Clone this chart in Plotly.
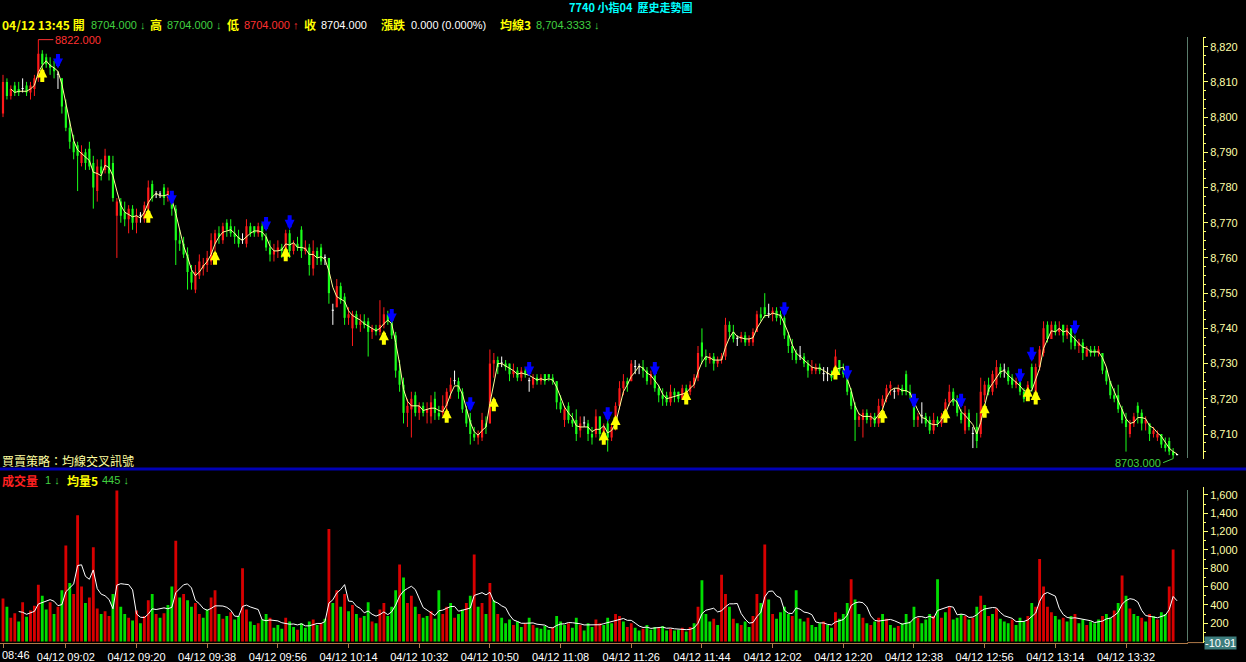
import pandas as pd
import plotly.graph_objects as go

# ---------------- data ----------------
tick_idx = [0, 16, 34, 52, 70, 88, 106, 124, 142, 160, 178, 196, 214, 232, 250, 268, 286]
tick_text = ["08:46", "04/12 09:02", "04/12 09:20", "04/12 09:38", "04/12 09:56", "04/12 10:14",
             "04/12 10:32", "04/12 10:50", "04/12 11:08", "04/12 11:26", "04/12 11:44", "04/12 12:02",
             "04/12 12:20", "04/12 12:38", "04/12 12:56", "04/12 13:14", "04/12 13:32"]

opens = [8801, 8810, 8806, 8809, 8808, 8808, 8809, 8807, 8808, 8811,
         8818, 8817, 8815, 8814, 8812, 8811, 8803, 8797, 8793, 8792,
         8787, 8790, 8791, 8787, 8779, 8786, 8785, 8789, 8787, 8772,
         8776, 8773, 8771, 8774, 8770, 8772, 8771, 8774, 8781, 8778,
         8778, 8780, 8777, 8779, 8774, 8765, 8764, 8761, 8756, 8751,
         8755, 8757, 8758, 8759, 8764, 8767, 8765, 8770, 8769, 8767,
         8766, 8765, 8764, 8769, 8769, 8767, 8769, 8766, 8763, 8761,
         8762, 8763, 8762, 8767, 8762, 8764, 8768, 8762, 8763, 8757,
         8762, 8763, 8760, 8760, 8745, 8746, 8752, 8749, 8743, 8740,
         8744, 8741, 8742, 8742, 8739, 8740, 8739, 8741, 8744, 8742,
         8738, 8728, 8724, 8716, 8717, 8721, 8716, 8718, 8716, 8715,
         8720, 8716, 8716, 8718, 8722, 8725, 8725, 8722, 8717, 8714,
         8710, 8709, 8709, 8713, 8713, 8730, 8731, 8730, 8730, 8730,
         8727, 8728, 8726, 8728, 8725, 8724, 8726, 8725, 8727, 8727,
         8726, 8725, 8719, 8714, 8718, 8714, 8714, 8711, 8713, 8713,
         8710, 8710, 8715, 8710, 8713, 8709, 8712, 8718, 8723, 8725,
         8725, 8729, 8729, 8729, 8728, 8726, 8727, 8723, 8721, 8721,
         8719, 8722, 8722, 8720, 8723, 8722, 8724, 8726, 8736, 8732,
         8731, 8732, 8730, 8731, 8732, 8741, 8739, 8737, 8737, 8738,
         8736, 8736, 8739, 8744, 8746, 8744, 8744, 8745, 8744, 8743,
         8738, 8735, 8733, 8732, 8732, 8730, 8728, 8728, 8729, 8727,
         8727, 8727, 8728, 8731, 8728, 8726, 8722, 8718, 8714, 8714,
         8716, 8714, 8715, 8713, 8718, 8720, 8723, 8722, 8722, 8723,
         8727, 8722, 8721, 8714, 8715, 8715, 8714, 8711, 8714, 8713,
         8715, 8719, 8722, 8720, 8716, 8711, 8716, 8710, 8712, 8710,
         8721, 8724, 8722, 8724, 8729, 8728, 8728, 8726, 8724, 8725,
         8722, 8720, 8729, 8722, 8729, 8733, 8741, 8737, 8741, 8739,
         8741, 8738, 8740, 8737, 8735, 8736, 8732, 8734, 8734, 8733,
         8733, 8728, 8725, 8721, 8721, 8717, 8714, 8710, 8713, 8718,
         8716, 8713, 8713, 8710, 8709, 8710, 8707, 8708, 8705, 8704]
highs = [8812, 8811, 8809, 8810, 8810, 8811, 8810, 8810, 8812, 8822,
         8819, 8818, 8817, 8816, 8813, 8811, 8805, 8799, 8795, 8793,
         8792, 8791, 8793, 8789, 8788, 8788, 8791, 8789, 8789, 8777,
         8777, 8776, 8775, 8775, 8774, 8773, 8776, 8782, 8782, 8779,
         8779, 8781, 8780, 8779, 8775, 8768, 8766, 8763, 8758, 8758,
         8761, 8760, 8762, 8767, 8768, 8769, 8770, 8771, 8771, 8769,
         8768, 8767, 8771, 8770, 8769, 8770, 8770, 8767, 8765, 8764,
         8765, 8764, 8768, 8768, 8765, 8766, 8769, 8765, 8764, 8765,
         8763, 8764, 8761, 8760, 8747, 8754, 8753, 8750, 8746, 8745,
         8745, 8744, 8744, 8743, 8741, 8741, 8748, 8746, 8745, 8743,
         8739, 8731, 8726, 8720, 8722, 8722, 8719, 8719, 8719, 8721,
         8722, 8718, 8721, 8723, 8726, 8728, 8726, 8723, 8718, 8716,
         8712, 8711, 8716, 8715, 8734, 8733, 8732, 8732, 8731, 8730,
         8730, 8729, 8729, 8729, 8726, 8727, 8727, 8727, 8727, 8727,
         8727, 8725, 8721, 8718, 8719, 8716, 8717, 8715, 8715, 8714,
         8712, 8717, 8715, 8713, 8716, 8713, 8719, 8725, 8727, 8726,
         8731, 8731, 8730, 8731, 8729, 8728, 8727, 8724, 8723, 8722,
         8724, 8723, 8722, 8724, 8724, 8725, 8727, 8735, 8740, 8734,
         8733, 8733, 8732, 8733, 8743, 8742, 8741, 8738, 8739, 8739,
         8738, 8740, 8745, 8746, 8750, 8747, 8746, 8746, 8745, 8744,
         8739, 8737, 8734, 8735, 8733, 8731, 8731, 8730, 8730, 8729,
         8729, 8728, 8734, 8731, 8730, 8727, 8723, 8719, 8716, 8717,
         8717, 8716, 8716, 8720, 8721, 8724, 8725, 8723, 8724, 8724,
         8728, 8724, 8721, 8716, 8719, 8716, 8715, 8716, 8715, 8716,
         8720, 8724, 8723, 8721, 8717, 8718, 8717, 8712, 8716, 8726,
         8725, 8726, 8728, 8731, 8730, 8730, 8729, 8727, 8726, 8725,
         8723, 8725, 8730, 8730, 8735, 8742, 8742, 8742, 8742, 8742,
         8741, 8741, 8740, 8738, 8737, 8737, 8735, 8735, 8735, 8735,
         8733, 8729, 8725, 8723, 8724, 8718, 8716, 8714, 8716, 8719,
         8717, 8715, 8713, 8712, 8711, 8710, 8709, 8709, 8706, 8704]
lows = [8800, 8805, 8805, 8806, 8806, 8807, 8806, 8805, 8806, 8810,
        8813, 8814, 8812, 8811, 8808, 8801, 8796, 8791, 8788, 8779,
        8786, 8785, 8785, 8774, 8776, 8782, 8784, 8782, 8776, 8760,
        8770, 8769, 8767, 8768, 8767, 8770, 8770, 8772, 8776, 8777,
        8777, 8775, 8776, 8772, 8758, 8762, 8760, 8751, 8751, 8750,
        8754, 8755, 8756, 8758, 8762, 8764, 8764, 8766, 8766, 8764,
        8763, 8764, 8763, 8766, 8766, 8766, 8765, 8762, 8759, 8759,
        8760, 8760, 8762, 8760, 8761, 8762, 8760, 8761, 8755, 8755,
        8758, 8758, 8758, 8747, 8741, 8746, 8747, 8741, 8741, 8735,
        8740, 8739, 8740, 8732, 8737, 8738, 8738, 8740, 8741, 8737,
        8726, 8722, 8713, 8712, 8709, 8715, 8714, 8715, 8713, 8713,
        8714, 8714, 8715, 8716, 8720, 8724, 8720, 8716, 8712, 8707,
        8708, 8707, 8708, 8710, 8713, 8726, 8727, 8729, 8728, 8725,
        8726, 8725, 8725, 8726, 8722, 8723, 8724, 8724, 8724, 8725,
        8724, 8717, 8716, 8712, 8713, 8712, 8708, 8709, 8712, 8708,
        8707, 8709, 8708, 8708, 8705, 8708, 8711, 8717, 8721, 8722,
        8725, 8727, 8727, 8726, 8724, 8724, 8722, 8719, 8718, 8718,
        8718, 8719, 8719, 8720, 8721, 8721, 8723, 8725, 8730, 8729,
        8730, 8728, 8729, 8730, 8731, 8737, 8736, 8735, 8736, 8735,
        8735, 8735, 8739, 8742, 8743, 8743, 8742, 8742, 8741, 8737,
        8733, 8731, 8730, 8731, 8729, 8726, 8727, 8727, 8727, 8725,
        8725, 8725, 8727, 8727, 8726, 8721, 8717, 8708, 8712, 8709,
        8713, 8712, 8712, 8712, 8716, 8719, 8721, 8720, 8721, 8721,
        8721, 8720, 8712, 8712, 8713, 8712, 8710, 8710, 8712, 8712,
        8714, 8718, 8718, 8715, 8713, 8710, 8711, 8706, 8706, 8709,
        8719, 8721, 8721, 8723, 8726, 8726, 8724, 8723, 8723, 8721,
        8719, 8720, 8722, 8721, 8728, 8732, 8736, 8737, 8738, 8738,
        8736, 8737, 8734, 8734, 8733, 8731, 8732, 8732, 8732, 8732,
        8727, 8724, 8720, 8719, 8716, 8713, 8705, 8709, 8712, 8713,
        8711, 8711, 8708, 8709, 8708, 8706, 8705, 8704, 8703, 8704]
closes = [8810, 8806, 8808, 8807, 8807, 8808, 8807, 8809, 8811, 8818,
          8815, 8815, 8814, 8813, 8812, 8803, 8797, 8793, 8790, 8789,
          8790, 8787, 8786, 8780, 8786, 8784, 8789, 8784, 8777, 8776,
          8772, 8771, 8774, 8770, 8772, 8772, 8775, 8780, 8777, 8778,
          8778, 8777, 8779, 8774, 8765, 8764, 8761, 8756, 8753, 8756,
          8759, 8758, 8760, 8765, 8767, 8766, 8769, 8768, 8767, 8766,
          8764, 8765, 8769, 8767, 8767, 8769, 8766, 8763, 8761, 8762,
          8763, 8762, 8767, 8762, 8764, 8763, 8762, 8763, 8758, 8762,
          8760, 8759, 8760, 8750, 8745, 8752, 8748, 8743, 8744, 8744,
          8741, 8742, 8741, 8739, 8740, 8739, 8741, 8744, 8742, 8738,
          8728, 8724, 8716, 8718, 8720, 8716, 8718, 8716, 8717, 8719,
          8716, 8715, 8718, 8722, 8724, 8725, 8722, 8717, 8713, 8710,
          8709, 8710, 8714, 8712, 8730, 8731, 8729, 8730, 8729, 8727,
          8728, 8726, 8728, 8727, 8725, 8726, 8725, 8726, 8725, 8726,
          8725, 8719, 8717, 8717, 8714, 8713, 8710, 8713, 8713, 8710,
          8709, 8715, 8710, 8712, 8709, 8712, 8718, 8723, 8725, 8724,
          8730, 8729, 8729, 8728, 8725, 8727, 8723, 8721, 8720, 8719,
          8722, 8721, 8720, 8723, 8722, 8724, 8726, 8733, 8732, 8731,
          8732, 8730, 8731, 8732, 8741, 8739, 8737, 8737, 8738, 8736,
          8737, 8739, 8744, 8743, 8744, 8744, 8745, 8743, 8743, 8738,
          8735, 8733, 8731, 8732, 8730, 8728, 8729, 8729, 8728, 8727,
          8727, 8726, 8732, 8728, 8727, 8722, 8718, 8714, 8715, 8716,
          8714, 8715, 8713, 8718, 8720, 8723, 8724, 8722, 8723, 8722,
          8722, 8721, 8714, 8715, 8715, 8713, 8711, 8714, 8713, 8715,
          8719, 8722, 8719, 8716, 8714, 8716, 8712, 8710, 8708, 8722,
          8724, 8722, 8727, 8729, 8727, 8728, 8725, 8724, 8725, 8722,
          8720, 8724, 8723, 8729, 8734, 8740, 8737, 8741, 8739, 8740,
          8738, 8740, 8736, 8735, 8736, 8733, 8734, 8733, 8733, 8734,
          8728, 8725, 8721, 8720, 8717, 8714, 8712, 8713, 8715, 8716,
          8713, 8714, 8710, 8711, 8710, 8707, 8706, 8705, 8704, 8704]
volumes = [470, 380, 260, 310, 220, 430, 270, 340, 390, 620,
           500, 350, 430, 300, 380, 560, 1050, 640, 520, 1380,
           600, 420, 480, 1030, 360, 300, 330, 280, 520, 1650,
           380, 300, 260, 230, 340, 200, 280, 450, 520, 300,
           260, 310, 400, 600, 1100, 480, 520, 450, 380, 420,
           300, 260, 350, 480, 560, 300, 250, 280, 320, 240,
           280, 800, 350, 220, 180, 200, 240, 300, 260, 150,
           180, 140, 260, 220, 160, 130, 200, 150, 220, 240,
           180, 200, 250, 1230, 420, 560, 380, 520, 330, 400,
           300, 260, 280, 430, 220, 200, 350, 420, 280, 380,
           560, 840, 700, 420, 500, 380, 300, 260, 280, 330,
           250, 560, 300, 380, 420, 260, 300, 350, 420, 500,
           950, 380, 420, 300, 640, 450, 300, 260, 200, 240,
           180, 220, 160, 200, 260, 180, 150, 140, 170, 130,
           160, 280, 220, 180, 200, 150, 260, 180, 120, 200,
           160, 240, 200, 180, 260, 200, 300, 280, 220, 160,
           200, 150, 120, 140, 180, 130, 160, 150, 170, 120,
           140, 120, 130, 150, 110, 160, 200, 380, 670, 300,
           220, 250, 180, 730, 520, 380, 250, 200, 180, 220,
           160, 280, 520, 420, 1060, 460, 300, 250, 320, 380,
           300, 280, 560, 250, 220, 260, 180, 160, 200, 220,
           180, 150, 320, 250, 300, 420, 680, 460, 300, 260,
           200, 180, 220, 260, 300, 250, 180, 150, 170, 200,
           300, 220, 380, 260, 200, 240, 300, 280, 680, 260,
           320, 380, 240, 260, 300, 280, 240, 260, 380, 500,
           400, 280, 300, 360, 250, 220, 200, 240, 180, 260,
           220, 280, 420, 380, 900, 600, 380, 320, 280, 240,
           260, 220, 280, 300, 200, 240, 180, 220, 200, 240,
           280, 300, 260, 340, 420, 720, 500, 360, 300, 280,
           260, 220, 300, 280, 240, 320, 300, 600, 1004, 1]
# bars of the volume panel drawn in red
vol_red_idx = [0, 2, 3, 5, 7, 8, 9, 12, 14, 16, 18, 19, 20, 22, 23, 24, 26, 27, 29, 32,
               34, 36, 37, 39, 41, 44, 46, 49, 50, 53, 54, 56, 58, 61, 62, 65, 68, 72, 75,
               79, 81, 83, 85, 87, 89, 91, 94, 96, 97, 101, 103, 104, 106, 109, 112, 113,
               115, 118, 120, 122, 124, 126, 130, 133, 135, 140, 144, 147, 151, 152, 156,
               157, 159, 160, 163, 167, 170, 173, 175, 177, 181, 183, 184, 186, 188, 191,
               192, 194, 196, 201, 205, 209, 212, 216, 219, 221, 223, 225, 228, 233, 237,
               239, 241, 245, 247, 249, 251, 253, 257, 261, 263, 264, 265, 266, 267, 270,
               273, 276, 280, 283, 285, 287, 290, 292, 294, 297, 298]

buy_idx = [10, 37, 54, 72, 97, 113, 125, 153, 156, 174, 212, 224, 240, 250, 261, 263]
buy_tip = [8814.1, 8774.1, 8762.2, 8763.2, 8739.5, 8717.3, 8720.6, 8711.1, 8715.4,
           8722.5, 8729.6, 8717.3, 8717.3, 8718.7, 8723.4, 8722.5]
sell_idx = [14, 43, 67, 73, 99, 119, 134, 154, 166, 199, 215, 232, 244, 259, 262, 273]
sell_tip = [8813.8, 8775.0, 8767.5, 8768.0, 8741.4, 8716.3, 8726.3, 8713.5, 8726.3,
            8743.3, 8725.3, 8717.3, 8717.3, 8724.4, 8730.5, 8738.1]

# ---------------- geometry ----------------
W, H = 1246, 662
def px(x):
    return x / W
def py(y):
    return 1 - y / H

XR = px(1187.5)          # right edge of plotting area
YP = px(1203)            # right axis line position
PRICE_DOM = [py(459), py(37)]
VOL_DOM = [py(642.6), py(487)]

RED, GREEN, WHITE = "#ff1a1a", "#1aff1a", "#ffffff"
VRED, VGREEN = "#d80000", "#00dd00"
AXY = "#ffff70"
TXY = "#ffffa8"

n = len(closes)
idx = list(range(n))
ma3 = pd.Series(closes, dtype=float).rolling(3).mean()
vma5 = pd.Series(volumes, dtype=float).rolling(5).mean()

def kind(i):
    if closes[i] > opens[i]:
        return "up"
    if closes[i] < opens[i]:
        return "down"
    return "flat"

fig = go.Figure()

# candles
for k, col in (("up", RED), ("down", GREEN), ("flat", WHITE)):
    sel = [i for i in idx if kind(i) == k]
    wx, wy = [], []
    for i in sel:
        wx += [i, i, None]
        wy += [lows[i], highs[i], None]
    fig.add_trace(go.Scatter(x=wx, y=wy, mode="lines", line=dict(color=col, width=1),
                             xaxis="x", yaxis="y", hoverinfo="skip", showlegend=False))
    fig.add_trace(go.Bar(x=sel,
                         y=[max(abs(closes[i] - opens[i]), 0.3) for i in sel],
                         base=[min(opens[i], closes[i]) for i in sel],
                         width=0.55, marker=dict(color=col, line=dict(width=0)),
                         xaxis="x", yaxis="y", hoverinfo="skip", showlegend=False))

# MA3
fig.add_trace(go.Scatter(x=idx, y=ma3, mode="lines", line=dict(color="#ffff9a", width=1),
                         xaxis="x", yaxis="y", hoverinfo="skip", showlegend=False))

# volume
red_set = set(vol_red_idx)
for is_red, col in ((True, VRED), (False, VGREEN)):
    sel = [i for i in idx if (i in red_set) == is_red]
    fig.add_trace(go.Bar(x=sel, y=[volumes[i] for i in sel], width=0.72,
                         marker=dict(color=col, line=dict(width=0)),
                         xaxis="x", yaxis="y2", hoverinfo="skip", showlegend=False))
fig.add_trace(go.Scatter(x=idx, y=vma5, mode="lines", line=dict(color="#ffffff", width=1),
                         xaxis="x", yaxis="y2", hoverinfo="skip", showlegend=False))

# signal arrows
for i, tip in zip(buy_idx, buy_tip):
    fig.add_annotation(x=i, y=tip, xref="x", yref="y", text="", showarrow=True,
                       arrowhead=2, arrowsize=0.5, arrowwidth=4, arrowcolor="#ffff00",
                       ax=0, ay=16, standoff=0)
for i, tip in zip(sell_idx, sell_tip):
    fig.add_annotation(x=i, y=tip, xref="x", yref="y", text="", showarrow=True,
                       arrowhead=2, arrowsize=0.5, arrowwidth=4, arrowcolor="#0000ff",
                       ax=0, ay=-16, standoff=0)

# max / min labels
imax = max(idx, key=lambda i: highs[i])
imin = min(idx, key=lambda i: lows[i])
fig.add_annotation(x=imax, y=highs[imax], xref="x", yref="y", text=f"{highs[imax]:.3f}",
                   showarrow=True, arrowhead=0, arrowwidth=1, arrowcolor="#ff3030",
                   ax=15, ay=0, xanchor="left", yanchor="middle",
                   font=dict(family="Liberation Sans", size=11, color="#ff3030"))
fig.add_annotation(x=imin, y=lows[imin], xref="x", yref="y", text=f"{lows[imin]:.3f}",
                   showarrow=True, arrowhead=0, arrowwidth=1, arrowcolor="#40d040",
                   ax=-10, ay=4, xanchor="right", yanchor="middle",
                   font=dict(family="Liberation Sans", size=11, color="#40d040"))

# header texts
NUMF = "Liberation Sans"
CJK = "Noto Sans CJK TC"
def txt(x, y, s, color, size=11, family=NUMF, bold=False, anchor="left"):
    fig.add_annotation(x=px(x), y=py(y), xref="paper", yref="paper", text=f"<b>{s}</b>" if bold else s,
                       showarrow=False, xanchor=anchor, yanchor="middle",
                       font=dict(family=family, size=size, color=color))

txt(630, 7, "7740 小指04  歷史走勢圖", "#00ffff", size=11, family=CJK, bold=True, anchor="center")

lo, lh, ll, lc = opens[-1], highs[-1], lows[-1], closes[-1]
chg = closes[-1] - closes[-1]
txt(0, 25, "04/12 13:45 開", "#ffff00", size=12, family=CJK, bold=True)
txt(89, 25, f"{lo:.3f} ↓", "#40d040")
txt(148, 25, "高", "#ffff00", size=12, family=CJK, bold=True)
txt(165, 25, f"{lh:.3f} ↓", "#40d040")
txt(225, 25, "低", "#ffff00", size=12, family=CJK, bold=True)
txt(242, 25, f"{ll:.3f} ↑", "#ff3030")
txt(302, 25, "收", "#ffff00", size=12, family=CJK, bold=True)
txt(319, 25, f"{lc:.3f}", "#ffffff")
txt(379, 25, "漲跌", "#ffff00", size=12, family=CJK, bold=True)
txt(409, 25, f"{chg:.3f} (0.000%)", "#ffffff")
txt(498, 25, "均線3", "#ffff00", size=12, family=CJK, bold=True)
txt(534, 25, f"{ma3.iloc[-1]:,.4f} ↓", "#40d040")

txt(0, 460, "買賣策略：均線交叉訊號", "#ffffa0", size=12, family=CJK)
txt(0, 480, "成交量", "#ff2020", size=12, family=CJK, bold=True)
txt(43, 480, f"{volumes[-1]} ↓", "#40d040")
txt(65, 480, "均量5", "#ffff00", size=12, family=CJK, bold=True)
txt(100, 480, f"{vma5.iloc[-1]:.0f} ↓", "#40d040")

# first x label (left-aligned at the edge)
txt(0, 655, tick_text[0], "#ffffff", size=11)

# volume axis minimum box
fig.add_annotation(x=px(1204), y=-10.91, xref="paper", yref="y2", text="-10.91", showarrow=False,
                   xanchor="left", yanchor="middle", bgcolor="#3d7d7d", borderpad=0,
                   font=dict(family=NUMF, size=11, color="#ffffff"))

shapes = [
    dict(type="line", xref="paper", yref="paper", x0=0, x1=1, y0=py(469), y1=py(469),
         line=dict(color="#0000b4", width=3)),
    dict(type="line", xref="paper", yref="paper", x0=XR, x1=XR, y0=py(458), y1=py(37),
         line=dict(color="#5a7c6c", width=1)),
    dict(type="line", xref="paper", yref="paper", x0=XR, x1=XR, y0=py(641), y1=py(490),
         line=dict(color="#5a7c6c", width=1)),
    dict(type="line", xref="paper", yref="paper", x0=XR, x1=YP, y0=py(642.6), y1=py(642.6),
         line=dict(color="#b07a48", width=1)),
]

fig.update_layout(
    width=W, height=H, margin=dict(l=0, r=0, t=0, b=0),
    paper_bgcolor="black", plot_bgcolor="black",
    barmode="overlay", showlegend=False, hovermode=False,
    shapes=shapes,
    xaxis=dict(domain=[0, XR], range=[-0.764, 301.66], anchor="y2",
               showgrid=False, zeroline=False, showline=True, linecolor="#b07a48", linewidth=1,
               tickmode="array", tickvals=tick_idx, ticktext=[""] + tick_text[1:],
               ticks="outside", ticklen=4, tickcolor="#b07a48",
               tickfont=dict(family=NUMF, size=11, color="#ffffff")),
    yaxis=dict(domain=PRICE_DOM, range=[8702.9, 8822.75], anchor="free", position=YP, side="right",
               showgrid=False, zeroline=False, showline=True, linecolor=AXY, linewidth=1,
               tickmode="linear", tick0=8710, dtick=10, tickformat=",d",
               ticks="outside", ticklen=4, tickcolor=AXY,
               tickfont=dict(family=NUMF, size=11, color=TXY),
               minor=dict(tickmode="linear", tick0=8710, dtick=2.5, ticks="outside", ticklen=2,
                          tickcolor=AXY, showgrid=False)),
    yaxis2=dict(domain=VOL_DOM, range=[-10.91, 1687], anchor="free", position=YP, side="right",
                showgrid=False, zeroline=False, showline=True, linecolor=AXY, linewidth=1,
                tickmode="array", tickvals=[200, 400, 600, 800, 1000, 1200, 1400, 1600], tickformat=",d",
                ticks="outside", ticklen=4, tickcolor=AXY,
                tickfont=dict(family=NUMF, size=11, color=TXY),
                minor=dict(tickmode="linear", tick0=0, dtick=100, ticks="outside", ticklen=2,
                           tickcolor=AXY, showgrid=False)),
)

fig.write_html("out.html", config={"displayModeBar": False, "staticPlot": True},
               post_script="document.body.style.margin='0px';document.body.style.overflow='hidden';")
